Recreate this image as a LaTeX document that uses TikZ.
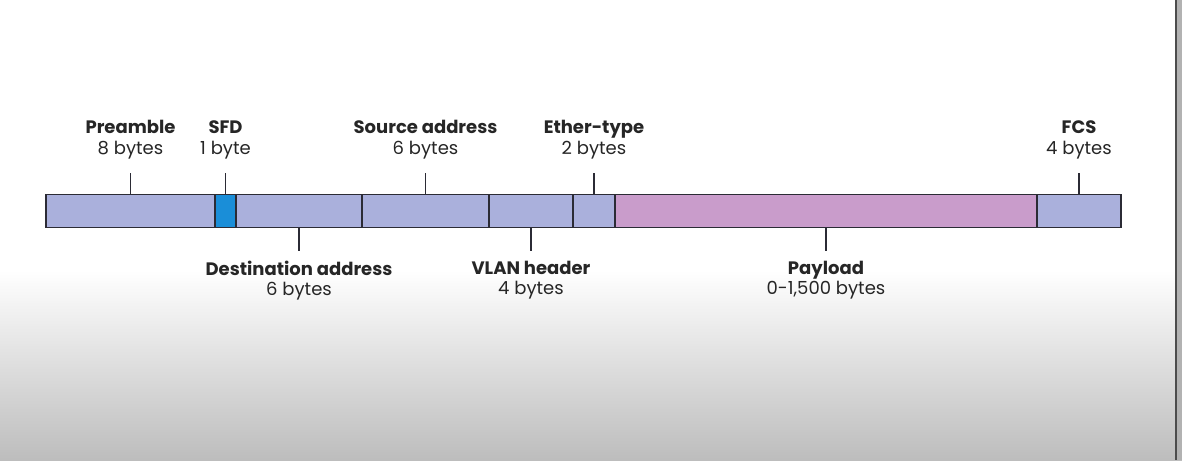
\documentclass[tikz,border=0pt]{standalone}
\usepackage{fontspec}
\setmainfont{Poppins}
\usetikzlibrary{positioning}

\definecolor{fieldblue}{HTML}{AAB0DC}
\definecolor{sfdblue}{HTML}{1A8ED8}
\definecolor{payloadpink}{HTML}{C99CCB}
\definecolor{edgegray}{HTML}{2B2B35}

\tikzset{
  field/.style={draw=edgegray,line width=1.2pt,fill=fieldblue,minimum height=33pt,inner sep=0pt,outer sep=0pt},
  lbl/.style={align=center,inner sep=0pt,font=\fontsize{18}{20.5}\selectfont,text=black!85},
  tick/.style={draw=edgegray,line width=1.2pt}
}

\begin{document}
\begin{tikzpicture}[x=1pt,y=1pt]
		\useasboundingbox (0,0) rectangle (1182,-460);
		% background
		\fill[white] (0,0) rectangle (1182,-270);
		\shade[top color=white,bottom color=black!26] (0,-270) rectangle (1182,-460);
		\fill[black!30] (1176,0) rectangle (1182,-460);
		\draw[black!70,line width=1.5pt] (1176,0) -- (1176,-460);

		% frame fields
		\node[field,minimum width=169pt,anchor=west] (pre) at (46,-211) {};
		\node[field,minimum width=21pt,fill=sfdblue,right=0pt of pre] (sfd) {};
		\node[field,minimum width=126pt,right=0pt of sfd] (dst) {};
		\node[field,minimum width=127pt,right=0pt of dst] (src) {};
		\node[field,minimum width=84pt,right=0pt of src] (vlan) {};
		\node[field,minimum width=42pt,right=0pt of vlan] (eth) {};
		\node[field,minimum width=422pt,fill=payloadpink,right=0pt of eth] (pay) {};
		\node[field,minimum width=84pt,right=0pt of pay] (fcs) {};

		% labels above
		\node[lbl,above=35.5pt of pre] (preL) {\textbf{Preamble}\\8 bytes};
		\node[lbl,above=35.5pt of sfd] (sfdL) {\textbf{SFD}\\1 byte};
		\node[lbl,above=35.5pt of src] (srcL) {\textbf{Source address}\\6 bytes};
		\node[lbl,above=35.5pt of eth] (ethL) {\textbf{Ether-type}\\2 bytes};
		\node[lbl,above=35.5pt of fcs] (fcsL) {\textbf{FCS}\\4 bytes};
		\foreach \f in {pre,sfd,src,eth,fcs}
			\draw[tick,shorten >=13.5pt] (\f.north) -- (\f L.south);

		% labels below
		\node[lbl,below=33pt of dst] (dstL) {\textbf{Destination address}\\6 bytes};
		\node[lbl,below=33pt of vlan] (vlanL) {\textbf{VLAN header}\\4 bytes};
		\node[lbl,below=33pt of pay] (payL) {\textbf{Payload}\\0-1,500 bytes};
		\foreach \f in {dst,vlan,pay}
			\draw[tick,shorten >=10pt] (\f.south) -- (\f L.north);
	\end{tikzpicture}
\end{document}
